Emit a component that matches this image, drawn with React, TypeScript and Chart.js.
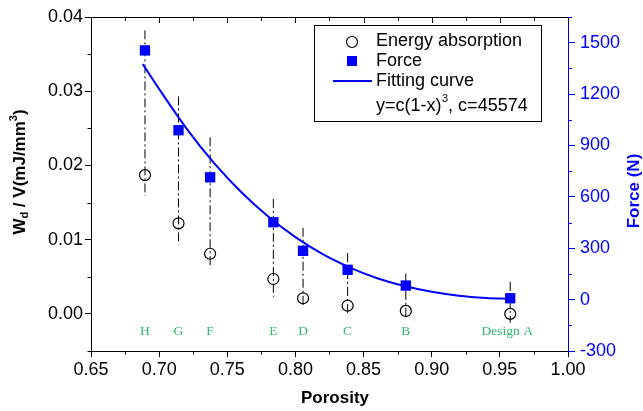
import React, { useEffect, useRef } from 'react';
import { Chart, registerables } from 'chart.js';

Chart.register(...registerables);

// ---- data ----
const designLabels = ['H', 'G', 'F', 'E', 'D', 'C', 'B', 'Design A'];
const porosity = [0.6896, 0.7142, 0.7374, 0.7838, 0.8056, 0.8383, 0.881, 0.9576];
const energyAbsorption = [0.0187, 0.0122, 0.0081, 0.0047, 0.0021, 0.0011, 0.0004, 0.0];
const force = [1455, 989, 714, 452, 285, 174, 82, 8];
const rangeTop = [0.0382, 0.0293, 0.0238, 0.0155, 0.0116, 0.0082, 0.0054, 0.0043];
const rangeBottom = [0.0159, 0.0093, 0.0061, 0.0023, 0.0008, -0.0003, -0.0008, -0.0012];
const curveX = [0.688, 0.7, 0.72, 0.74, 0.76, 0.78, 0.8, 0.82, 0.84, 0.86, 0.88, 0.9, 0.92, 0.94, 0.957];
const curveY = [1375, 1230, 1000, 800, 630, 485, 365, 265, 187, 125, 80, 46, 23, 10, 4];
const labelLevel = -0.0023;

const xMajorTicks = [0.65, 0.7, 0.75, 0.8, 0.85, 0.9, 0.95, 1.0];
const xMinorTicks = [0.675, 0.725, 0.775, 0.825, 0.875, 0.925, 0.975];
const leftMajorTicks = [0, 0.01, 0.02, 0.03, 0.04];
const leftMinorTicks = [-0.005, 0.005, 0.015, 0.025, 0.035];
const rightMajorTicks = [-300, 0, 300, 600, 900, 1200, 1500];
const rightMinorTicks = [-150, 150, 450, 750, 1050, 1350, 1650];

const BLUE = '#0000ff';
const GREEN = '#2fb56f';
const SANS = "'Liberation Sans', Arial, sans-serif";

const decor = {
  id: 'decor',
  afterDraw(chart: any) {
    const { ctx, chartArea: a, scales } = chart;
    const sx = scales.x, sy = scales.y, sy1 = scales.y1;
    const r = (v: number) => Math.round(v) + 0.5;
    ctx.save();
    ctx.lineWidth = 1;
    ctx.strokeStyle = '#000';
    // top border
    ctx.beginPath();
    ctx.moveTo(a.left, r(a.top));
    ctx.lineTo(a.right, r(a.top));
    ctx.stroke();
    // top ticks (inward)
    xMajorTicks.forEach((v) => {
      const p = r(sx.getPixelForValue(v));
      ctx.beginPath(); ctx.moveTo(p, a.top); ctx.lineTo(p, a.top + 6); ctx.stroke();
    });
    xMinorTicks.forEach((v) => {
      const p = r(sx.getPixelForValue(v));
      ctx.beginPath(); ctx.moveTo(p, a.top); ctx.lineTo(p, a.top + 4); ctx.stroke();
      // bottom minor (outward)
      ctx.beginPath(); ctx.moveTo(p, a.bottom); ctx.lineTo(p, a.bottom + 3.5); ctx.stroke();
    });
    leftMinorTicks.forEach((v) => {
      const p = r(sy.getPixelForValue(v));
      ctx.beginPath(); ctx.moveTo(a.left, p); ctx.lineTo(a.left - 3.5, p); ctx.stroke();
    });
    ctx.strokeStyle = BLUE;
    rightMinorTicks.forEach((v) => {
      const p = r(sy1.getPixelForValue(v));
      ctx.beginPath(); ctx.moveTo(a.right, p); ctx.lineTo(a.right + 4, p); ctx.stroke();
    });

    // green design labels
    ctx.fillStyle = GREEN;
    ctx.font = "13.5px 'Liberation Serif', 'Times New Roman', serif";
    ctx.textAlign = 'center';
    ctx.textBaseline = 'middle';
    designLabels.forEach((t, i) => {
      const px = sx.getPixelForValue(porosity[i]) + (i === 7 ? -3 : 0);
      ctx.fillText(t, px, sy.getPixelForValue(labelLevel));
    });

    // legend
    const lx = 314, ly = 25, lw = 227, lh = 96;
    ctx.strokeStyle = '#000';
    ctx.lineWidth = 1;
    ctx.strokeRect(lx + 0.5, ly + 0.5, lw, lh);
    ctx.lineWidth = 1.2;
    ctx.beginPath(); ctx.arc(352, 42, 5.5, 0, Math.PI * 2); ctx.stroke();
    ctx.fillStyle = BLUE;
    ctx.fillRect(347, 56, 10, 10);
    ctx.strokeStyle = BLUE; ctx.lineWidth = 2;
    ctx.beginPath(); ctx.moveTo(333, 81); ctx.lineTo(372, 81); ctx.stroke();
    ctx.fillStyle = '#000';
    ctx.textAlign = 'left';
    ctx.textBaseline = 'middle';
    ctx.font = `18px ${SANS}`;
    ctx.fillText('Energy absorption', 376, 41);
    ctx.fillText('Force', 376, 61);
    ctx.fillText('Fitting curve', 376, 81);
    let tx = 376;
    const t1 = 'y=c(1-x)';
    ctx.fillText(t1, tx, 106); tx += ctx.measureText(t1).width;
    ctx.font = `11px ${SANS}`;
    ctx.fillText('3', tx + 0.5, 99); tx += ctx.measureText('3').width + 0.5;
    ctx.font = `18px ${SANS}`;
    ctx.fillText(', c=45574', tx, 106);

    // x title
    ctx.font = `bold 17px ${SANS}`;
    ctx.textAlign = 'center';
    ctx.fillText('Porosity', 335, 398);

    // left title with subscript/superscript
    ctx.save();
    ctx.translate(20, 172);
    ctx.rotate(-Math.PI / 2);
    const parts: [string, number, number][] = [
      ['W', 17, 0], ['d', 11, 5], [' / V(mJ/mm', 17, 0], ['3', 11, -6], [')', 17, 0],
    ];
    let total = 0;
    parts.forEach(([t, s]) => { ctx.font = `bold ${s}px ${SANS}`; total += ctx.measureText(t).width; });
    let cx = -total / 2;
    ctx.textAlign = 'left';
    ctx.textBaseline = 'middle';
    parts.forEach(([t, s, dy]) => {
      ctx.font = `bold ${s}px ${SANS}`;
      ctx.fillText(t, cx, dy);
      cx += ctx.measureText(t).width;
    });
    ctx.restore();

    // right title
    ctx.save();
    ctx.translate(634, 191);
    ctx.rotate(-Math.PI / 2);
    ctx.fillStyle = BLUE;
    ctx.font = `bold 17px ${SANS}`;
    ctx.textAlign = 'center';
    ctx.textBaseline = 'middle';
    ctx.fillText('Force (N)', 0, 0);
    ctx.restore();

    ctx.restore();
  },
};

export default function App() {
  const ref = useRef<HTMLCanvasElement>(null);
  useEffect(() => {
    const canvas = ref.current;
    if (!canvas) return;
    Chart.defaults.font.family = SANS;

    const rangeSets = porosity.map((p, i) => ({
      type: 'line' as const,
      label: 'range ' + designLabels[i],
      data: [
        { x: p, y: rangeTop[i] },
        { x: p, y: rangeBottom[i] },
      ],
      yAxisID: 'y',
      showLine: true,
      borderColor: '#000',
      borderWidth: 1,
      borderDash: [9, 3, 2, 3],
      pointRadius: 0,
      fill: false,
    }));

    const chart = new Chart(canvas, {
      type: 'scatter',
      data: {
        datasets: [
          {
            label: 'Force',
            data: porosity.map((p, i) => ({ x: p, y: force[i] })),
            yAxisID: 'y1',
            pointStyle: 'rect',
            pointRadius: 7.3,
            backgroundColor: BLUE,
            borderColor: BLUE,
            borderWidth: 0,
          },
          {
            label: 'Energy absorption',
            data: porosity.map((p, i) => ({ x: p, y: energyAbsorption[i] })),
            yAxisID: 'y',
            pointStyle: 'circle',
            pointRadius: 5.5,
            backgroundColor: 'rgba(0,0,0,0)',
            borderColor: '#000',
            borderWidth: 1.2,
          },
          {
            type: 'line' as const,
            label: 'Fitting curve',
            data: curveX.map((x, i) => ({ x, y: curveY[i] })),
            yAxisID: 'y1',
            showLine: true,
            borderColor: BLUE,
            borderWidth: 2,
            pointRadius: 0,
            cubicInterpolationMode: 'monotone',
            fill: false,
          },
          ...rangeSets,
        ] as any,
      },
      options: {
        responsive: false,
        animation: false,
        layout: { padding: { top: 17, left: 0, right: 0, bottom: 0 } },
        plugins: { legend: { display: false }, tooltip: { enabled: false } },
        scales: {
          x: {
            type: 'linear',
            position: 'bottom',
            min: 0.65,
            max: 1.0,
            afterBuildTicks: (s: any) => { s.ticks = xMajorTicks.map((v) => ({ value: v })); },
            afterFit: (s: any) => { s.height = 60; },
            ticks: {
              callback: (v: any) => Number(v).toFixed(2),
              font: { size: 18 },
              color: '#000',
              padding: 2,
              maxRotation: 0,
              autoSkip: false,
            },
            grid: { display: true, drawOnChartArea: false, drawTicks: true, tickLength: 6, color: '#000', lineWidth: 1 },
            border: { display: true, color: '#000', width: 1 },
          },
          y: {
            type: 'linear',
            position: 'left',
            min: -0.005,
            max: 0.04,
            afterBuildTicks: (s: any) => { s.ticks = leftMajorTicks.map((v) => ({ value: v })); },
            afterFit: (s: any) => { s.width = 91; },
            ticks: {
              callback: (v: any) => Number(v).toFixed(2),
              font: { size: 18 },
              color: '#000',
              padding: 2,
              autoSkip: false,
            },
            grid: { display: true, drawOnChartArea: false, drawTicks: true, tickLength: 6, color: '#000', lineWidth: 1 },
            border: { display: true, color: '#000', width: 1 },
          },
          y1: {
            type: 'linear',
            position: 'right',
            min: -300,
            max: 1650,
            afterBuildTicks: (s: any) => { s.ticks = rightMajorTicks.map((v) => ({ value: v })); },
            afterFit: (s: any) => { s.width = 75; },
            ticks: {
              callback: (v: any) => String(v),
              font: { size: 18 },
              color: BLUE,
              padding: 5,
              autoSkip: false,
            },
            grid: { display: true, drawOnChartArea: false, drawTicks: true, tickLength: 7, color: BLUE, lineWidth: 1 },
            border: { display: true, color: BLUE, width: 1 },
          },
        },
      } as any,
      plugins: [decor],
    });
    return () => chart.destroy();
  }, []);

  return (
    <div style={{ position: 'absolute', left: 0, top: 0, width: 643, height: 411, background: '#fff' }}>
      <canvas ref={ref} width={643} height={411} style={{ display: 'block' }} />
    </div>
  );
}
